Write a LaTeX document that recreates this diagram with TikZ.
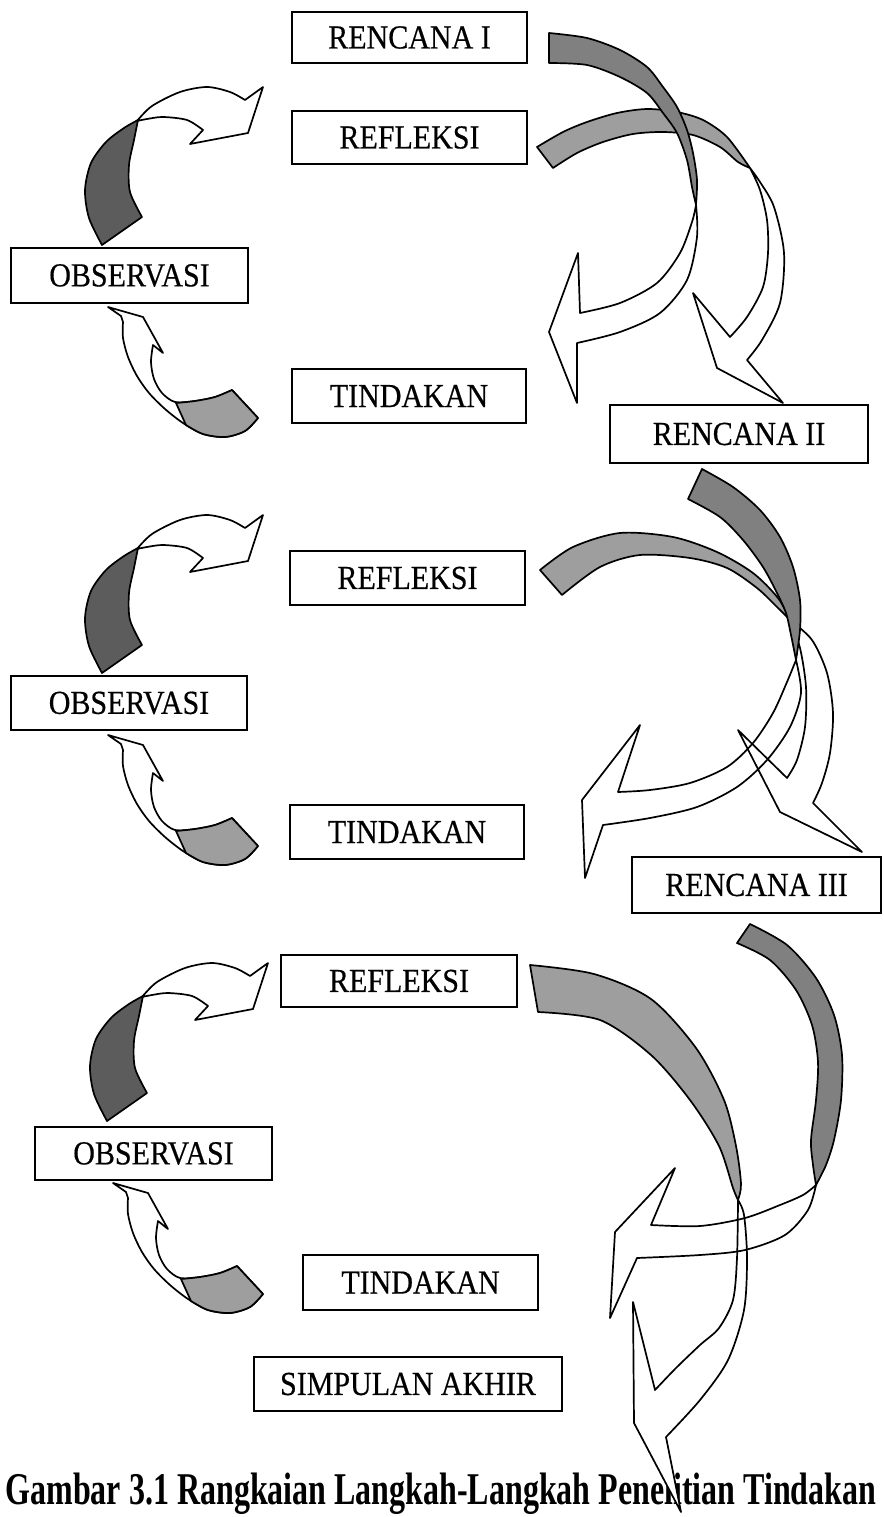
\documentclass[tikz,border=0pt]{standalone}
\usepackage{graphicx}
\usepackage{fontspec}
\setmainfont{Liberation Serif}
\newfontfamily\boxfam{Liberation Serif}[FakeBold=0.5]
\newcommand{\bxfont}{\boxfam\fontsize{30}{32}\selectfont}
\newcommand{\cpfont}{\fontsize{32}{36}\selectfont\bfseries}
\newcommand{\bt}[1]{\scalebox{1}[1.12]{#1}}
\definecolor{dkL}{gray}{0.36}
\definecolor{ltL}{gray}{0.62}
\definecolor{bandA}{gray}{0.50}
\definecolor{bandB}{gray}{0.62}
\tikzset{
  box/.style={draw, line width=2pt, rectangle, inner sep=0pt, font=\bxfont},
  wline/.style={draw, line width=1.7pt, line join=round},
  dpart/.style={draw, line width=1.7pt, line join=round, fill=#1},
}
% ---- left arrows (cycle 1 geometry) ----
\def\pLTw{(137,121) -- plot[smooth] coordinates {(137,121) (152,106) (180,92) (207,87) (230,92) (245,100)} -- (263,87) -- (248,133) -- (190,144) -- (203,130) -- plot[smooth] coordinates {(203,130) (187,120) (163,117) (147,119) (137,121)} -- cycle}
\def\pLTd{(102,245) -- plot[smooth] coordinates {(102,245) (89,218) (85,190) (91,163) (106,142) (124,128) (138,120)} -- plot[smooth] coordinates {(138,120) (134,140) (129,165) (130,192) (142,217)} -- cycle}
\def\pLBw{(108,307) -- (143,317) -- (163,353) -- (153,345) -- plot[smooth] coordinates {(153,345) (151,362) (154,379) (162,393) (175,402) (195,401) (215,397) (232,390)} -- (258,418) -- plot[smooth] coordinates {(258,418) (245,431) (225,437) (203,434) (183,423) (165,409) (149,393) (137,376) (128,357) (123,338) (123,322)} -- (121,316) -- cycle}
\def\pLBd{(232,390) -- (258,418) -- plot[smooth] coordinates {(258,418) (245,431) (225,437) (203,434) (186,425)} -- (176,403) -- plot[smooth] coordinates {(176,403) (195,401) (215,397) (232,390)} -- cycle}
% ---- cycle 1 right ----
\def\pAoneW{(696,205) -- plot[smooth] coordinates {(696,205) (697,237) (687,280) (660,313) (620,332) (577,343)} -- (577,403) -- (549,332) -- (578,253) -- (580,313) -- plot[smooth] coordinates {(580,313) (620,303) (657,283) (680,253) (692,222) (696,205)} -- cycle}
\def\pAoneD{(549,33) -- plot[smooth] coordinates {(549,33) (587,38) (620,50) (647,67) (663,87) (677,107) (687,130) (693,153) (697,180) (696,205)} -- plot[smooth] coordinates {(696,205) (692,187) (687,160) (677,133) (663,113) (647,93) (620,77) (587,65) (549,63)} -- cycle}
\def\pBoneW{(750,168) -- plot[smooth] coordinates {(750,168) (760,190) (767,220) (768,253) (763,287) (747,317) (730,337)} -- (693,293) -- (717,368) -- (783,403) -- (747,360) -- plot[smooth] coordinates {(747,360) (762,340) (780,303) (784,253) (774,207) (760,182) (750,168)} -- cycle}
\def\pBoneD{(537,147) -- plot[smooth] coordinates {(537,147) (563,132) (587,122) (617,113) (647,109) (677,112) (703,120) (727,137) (750,168)} -- plot[smooth] coordinates {(750,168) (738,162) (720,147) (693,135) (663,132) (633,134) (603,142) (577,153) (553,168)} -- cycle}
% ---- cycle 2 right ----
\def\pAtwoD{(702,469) -- plot[smooth] coordinates {(702,469) (733,487) (760,510) (780,537) (793,567) (800,600) (800,630) (796,660)} -- plot[smooth] coordinates {(796,660) (791,635) (786,613) (777,593) (763,567) (743,540) (720,517) (688,499)} -- cycle}
\def\pAtwoW{(796,660) -- plot[smooth] coordinates {(796,660) (801,693) (790,727) (767,760) (737,787) (697,807) (650,818) (603,825)} -- (585,878) -- (582,800) -- (640,725) -- (618,792) -- plot[smooth] coordinates {(618,792) (650,790) (690,783) (727,767) (753,743) (773,713) (787,682) (796,660)} -- cycle}
\def\pBtwoD{(540,570) -- plot[smooth] coordinates {(540,570) (573,547) (620,533) (673,537) (717,552) (753,573) (778,598) (790,620)} -- plot[smooth] coordinates {(790,620) (777,607) (757,588) (727,568) (690,558) (640,555) (600,567) (562,595)} -- cycle}
\def\pBtwoW{(790,620) -- plot[smooth] coordinates {(790,620) (800,648) (806,687) (805,727) (797,760) (787,778)} -- (738,730) -- (780,812) -- (862,852) -- (813,803) -- plot[smooth] coordinates {(813,803) (822,783) (830,753) (833,713) (827,673) (812,640) (790,620)} -- cycle}
% ---- cycle 3 right ----
\def\pAthrD{(750,924) -- plot[smooth] coordinates {(750,924) (787,945) (816,978) (834,1015) (842,1055) (841,1100) (834,1140) (826,1165) (816,1185)} -- plot[smooth] coordinates {(816,1185) (813,1165) (811,1140) (816,1100) (818,1062) (812,1025) (796,990) (770,960) (737,943)} -- cycle}
\def\pAthrW{(816,1185) -- plot[smooth] coordinates {(816,1185) (808,1210) (785,1235) (745,1250) (700,1255) (637,1258)} -- (610,1318) -- (615,1232) -- (675,1168) -- (651,1225) -- plot[smooth] coordinates {(651,1225) (700,1226) (745,1218) (780,1205) (803,1195) (816,1185)} -- cycle}
\def\pBthrD{(530,965) -- plot[smooth] coordinates {(530,965) (594,974) (651,999) (696,1048) (724,1100) (736,1146) (741,1184) (738,1200)} -- plot[smooth] coordinates {(738,1200) (733,1188) (719,1146) (690,1100) (651,1055) (600,1020) (538,1012)} -- cycle}
\def\pBthrW{(738,1200) -- plot[smooth] coordinates {(738,1200) (737,1258) (733,1300) (719,1328) (700,1345) (676,1368) (655,1390)} -- (633,1302) -- (634,1423) -- (681,1512) -- (666,1437) -- plot[smooth] coordinates {(666,1437) (700,1400) (728,1360) (744,1310) (747,1258) (744,1215) (738,1200)} -- cycle}

\begin{document}
\begin{tikzpicture}[x=1pt, y=-1pt]
\useasboundingbox (0,0) rectangle (883,1517);
% boxes
\node[box, minimum width=235pt, minimum height=51pt] (r1) at (409.5,37.5) {\bt{RENCANA I}};
\node[box, minimum width=235pt, minimum height=53pt] (f1) at (409.5,137.5) {\bt{REFLEKSI}};
\node[box, minimum width=237pt, minimum height=55pt] (o1) at (129.5,275.5) {\bt{OBSERVASI}};
\node[box, minimum width=234pt, minimum height=54pt] (t1) at (409,396) {\bt{TINDAKAN}};
\node[box, minimum width=258pt, minimum height=58pt] (r2) at (739,434) {\bt{RENCANA II}};
\node[box, minimum width=235pt, minimum height=54pt] (f2) at (407.5,578) {\bt{REFLEKSI}};
\node[box, minimum width=236pt, minimum height=54pt] (o2) at (129,703) {\bt{OBSERVASI}};
\node[box, minimum width=234pt, minimum height=54pt] (t2) at (407,832) {\bt{TINDAKAN}};
\node[box, minimum width=249pt, minimum height=56pt] (r3) at (756.5,885) {\bt{RENCANA III}};
\node[box, minimum width=236pt, minimum height=52pt] (f3) at (399,981) {\bt{REFLEKSI}};
\node[box, minimum width=237pt, minimum height=53pt] (o3) at (153.5,1153.5) {\bt{OBSERVASI}};
\node[box, minimum width=235pt, minimum height=55pt] (t3) at (420.5,1282.5) {\bt{TINDAKAN}};
\node[box, minimum width=308pt, minimum height=54pt] (s) at (408,1384) {\bt{SIMPULAN AKHIR}};
% caption
\node[font=\cpfont, anchor=base, inner sep=0pt] (cap) at (441,1504) {\scalebox{1}[1.42]{Gambar 3.1 Rangkaian Langkah-Langkah Penelitian Tindakan}};
% white fills
\foreach \dx/\dy in {0/0,0/428,5/876}{
  \begin{scope}[shift={(\dx,\dy)}]
    \fill[white] \pLTw; \fill[white] \pLBw;
  \end{scope}
}
\fill[white] \pAoneW; \fill[white] \pBoneW;
\fill[white] \pAtwoW; \fill[white] \pBtwoW;
\fill[white] \pAthrW; \fill[white] \pBthrW;
% white outlines
\foreach \dx/\dy in {0/0,0/428,5/876}{
  \begin{scope}[shift={(\dx,\dy)}]
    \path[wline] \pLTw; \path[wline] \pLBw;
  \end{scope}
}
\path[wline] \pAoneW; \path[wline] \pBoneW;
\path[wline] \pAtwoW; \path[wline] \pBtwoW;
\path[wline] \pAthrW; \path[wline] \pBthrW;
% dark parts
\foreach \dx/\dy in {0/0,0/428,5/876}{
  \begin{scope}[shift={(\dx,\dy)}]
    \path[dpart=dkL] \pLTd; \path[dpart=ltL] \pLBd;
  \end{scope}
}
\path[dpart=bandB] \pBoneD; \path[dpart=bandA] \pAoneD;
\path[dpart=bandB] \pBtwoD; \path[dpart=bandA] \pAtwoD;
\path[dpart=bandB] \pBthrD; \path[dpart=bandA] \pAthrD;
\end{tikzpicture}
\end{document}
